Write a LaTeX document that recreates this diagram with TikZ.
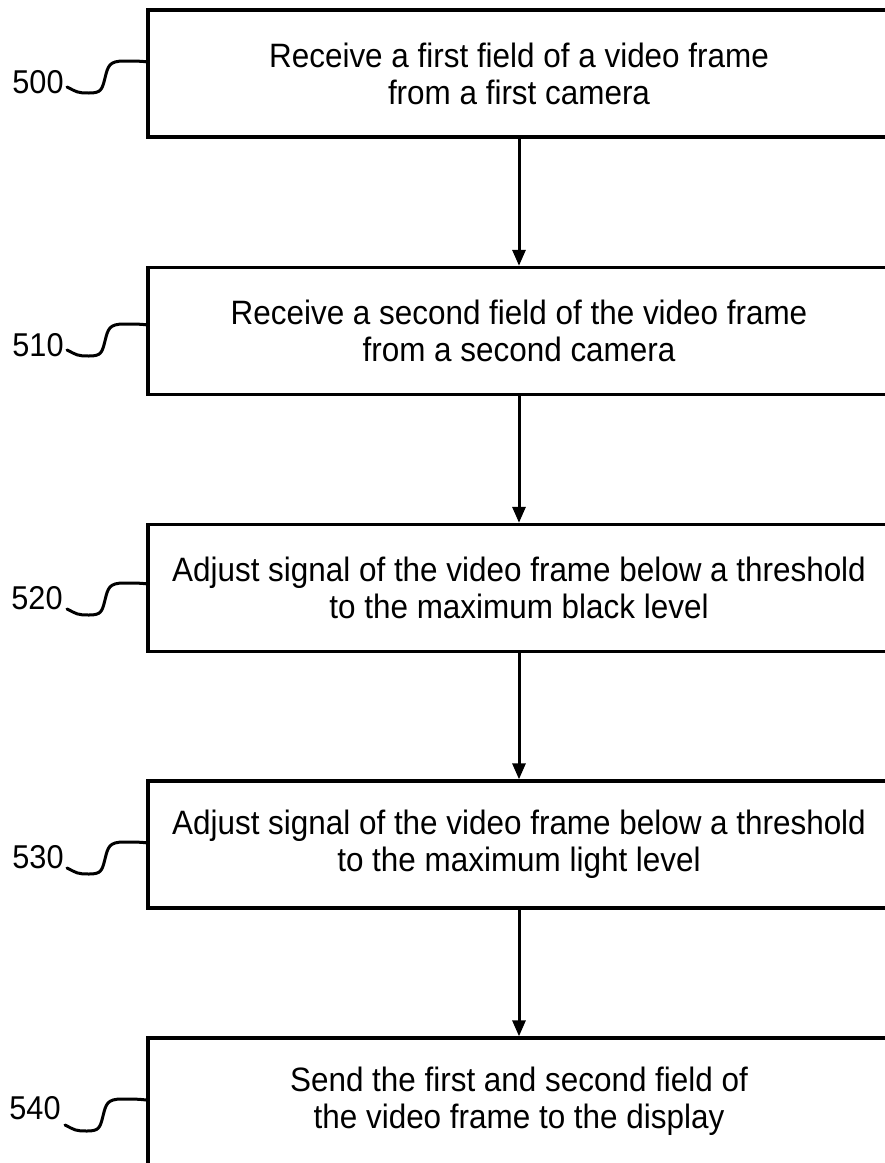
\documentclass[tikz,border=0pt]{standalone}
\usepackage{fontspec}
\setmainfont{Liberation Sans}
\newfontfamily\boxfont[FakeStretch=0.93]{Liberation Sans}
\usetikzlibrary{arrows.meta,calc}
\begin{document}
\begin{tikzpicture}[x=1pt,y=-1pt,
  stepbox/.style={draw,line width=3.4pt,minimum width=742pt,minimum height=127pt,inner sep=0pt,align=center,font=\boxfont\fontsize{33.8}{37}\selectfont},
  flow/.style={line width=3pt,-{Triangle[length=16pt,width=13pt]}},
  refnum/.style={font=\boxfont\fontsize{33}{37}\selectfont,inner sep=0pt},
  squig/.style={line width=3pt,line cap=round}]
\useasboundingbox (0,0) rectangle (885,1163);
\clip (0,0) rectangle (885,1163);
\node[stepbox] (b1) at (519,73.5) {Receive a first field of a video frame\\from a first camera};
\node[stepbox] (b2) at (519,331) {Receive a second field of the video frame\\from a second camera};
\node[stepbox] (b3) at (519,588) {Adjust signal of the video frame below a threshold\\to the maximum black level};
\node[stepbox] (b4) at (519,844.5) {Adjust signal of the video frame below a threshold\\to the maximum light level};
\node[stepbox] (b5) at (519,1101.5) {Send the first and second field of\\the video frame to the display};
\draw[flow] (b1.south) -- (b2.north);
\draw[flow] (b2.south) -- (b3.north);
\draw[flow] (b3.south) -- (b4.north);
\draw[flow] (b4.south) -- (b5.north);
\node[refnum] (l500) at (38,82) {500};
\node[refnum] (l510) at (38,345) {510};
\node[refnum] (l520) at (37,598) {520};
\node[refnum] (l530) at (38,857) {530};
\node[refnum] (l540) at (35,1108) {540};
\coordinate (s500) at (67,87);
\coordinate (s510) at (67,350);
\coordinate (s520) at (67,609);
\coordinate (s530) at (67,868);
\coordinate (s540) at (65,1125);
\foreach \s/\b in {500/b1,510/b2,520/b3,530/b4,540/b5}{
  \draw[squig] (s\s) .. controls +(10,5) and +(-12,0) .. ++(22,6)
     .. controls +(12,0) and +(-3,12) .. ++(16,-15)
     .. controls +(3,-12) and +(-15,0) .. ++(19,-17)
     .. controls +(12,0) and +(-8,-1) .. ($(s\s)+(81,-25)$);
}
\end{tikzpicture}
\end{document}
